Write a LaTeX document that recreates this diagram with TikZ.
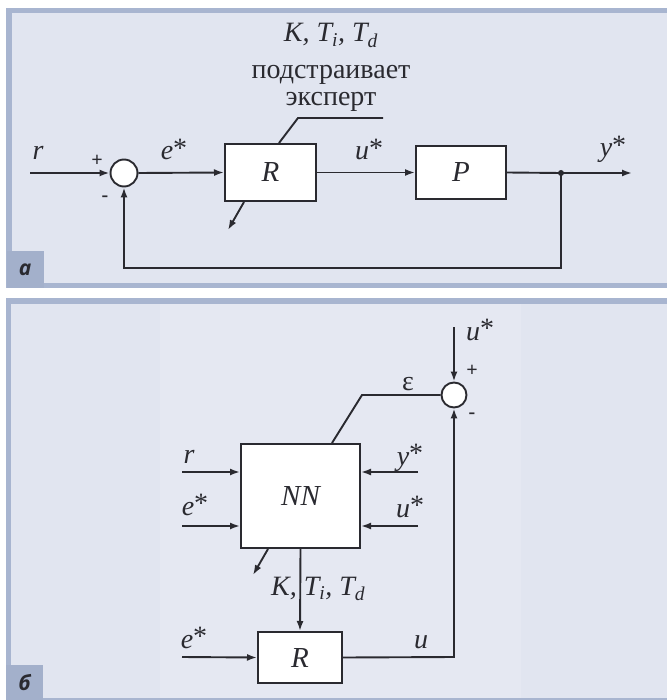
\documentclass[tikz,border=0pt]{standalone}
\usepackage{fontspec}
\setmainfont{Liberation Serif}
\newfontfamily\tagfont{Open Sans}
\usetikzlibrary{arrows.meta}
\definecolor{panelbg}{HTML}{E1E5F0}
\definecolor{innerbg}{HTML}{E5E8F2}
\definecolor{framec}{HTML}{A8B5D0}
\definecolor{tagbg}{HTML}{A3B0CB}
\definecolor{ink}{HTML}{2A2A30}
\tikzset{
  blk/.style={draw=ink, fill=white, line width=2pt, inner sep=0pt,
    font=\fontsize{29}{29}\selectfont\itshape, text=ink},
  sumc/.style={circle, draw=ink, fill=white, line width=1.9pt, inner sep=0pt},
  wire/.style={draw=ink, line width=1.9pt},
  arr/.style={wire, -{Latex[length=10pt,width=7pt]}},
  lbl/.style={font=\fontsize{28}{28}\selectfont\itshape, text=ink, inner sep=0pt},
  rlbl/.style={font=\fontsize{28}{28}\selectfont, text=ink, inner sep=0pt},
  sgn/.style={font=\fontsize{20}{20}\selectfont\bfseries, text=ink, inner sep=0pt},
  tagbox/.style={fill=tagbg, text=ink, font=\tagfont\fontsize{21}{21}\selectfont\bfseries\itshape,
    minimum width=37pt, minimum height=37pt, inner sep=0pt},
  dot/.style={circle, fill=ink, inner sep=0pt, minimum size=6pt}
}
\newcommand{\st}{\raisebox{0.1em}{\upshape *}}
\begin{document}
\begin{tikzpicture}[x=1pt,y=-1pt]
\useasboundingbox (0,0) rectangle (667,700);
% panel frames
\fill[framec] (6,8) rectangle (667,288);
\fill[panelbg] (12,13) rectangle (667,283);
\fill[framec] (6,298) rectangle (667,700);
\fill[panelbg] (11,304) rectangle (667,698);
\fill[innerbg] (160,304) rectangle (521,698);
\node[tagbox] (taga) at (25,269.5) {а};
\node[tagbox] (tagb) at (24.5,683) {б};

% ---------- panel a ----------
\node[blk, minimum width=91pt, minimum height=57pt] (Ra) at (270.5,172.5) {R};
\node[blk, minimum width=90pt, minimum height=53pt] (Pa) at (461,172.5) {P};
\node[sumc, minimum size=27pt] (sa) at (124,173) {};
\coordinate (rin) at (30,173);
\coordinate (yout) at (632,173);
\node[dot] (ja) at (561,173) {};
\coordinate (fb1) at (561,268);
\coordinate (fb2) at (124,268);
\coordinate (adjA) at (228,230);
\coordinate (tunA) at (298,118);
\coordinate (tunB) at (383,118);

\draw[arr] (rin) -- (sa.west);
\draw[arr] (sa.east) -- (Ra.west);
\draw[arr] (Ra.east) -- (Pa.west);
\draw[wire] (Pa.east) -- (ja.center);
\draw[arr] (ja.center) -- (yout);
\draw[arr] (ja.center) -- (fb1) -- (fb2) -- (sa.south);
\draw[arr] (Ra.south west) ++(20,0) coordinate (adjS) -- (adjA);
\draw[wire] (Ra.north) ++(8.5,0) coordinate (tunS) -- (tunA) -- (tunB);

\node[lbl, anchor=base] (lr) at (38,160) {r};
\node[sgn] (pa) at (97,161) {+};
\node[sgn] (ma) at (105,199) {-};
\node[lbl, anchor=base] (le) at (174,160) {e\st};
\node[lbl, anchor=base] (lu) at (369,160) {u\st};
\node[lbl, anchor=base] (ly) at (613,157) {y\st};
\node[lbl, anchor=base] (kti) at (331,42) {K, T\textsubscript{i}, T\textsubscript{d}};
\node[rlbl, anchor=base] (t1) at (331,79) {подстраивает};
\node[rlbl, anchor=base] (t2) at (331,106) {эксперт};

% ---------- panel b ----------
\node[blk, minimum width=119pt, minimum height=104pt] (NN) at (300.5,496) {NN};
\node[blk, minimum width=84pt, minimum height=51pt] (Rb) at (300,657.5) {R};
\node[sumc, minimum size=25pt] (sb) at (454,395) {};
\coordinate (rinb) at (182,472);
\coordinate (einb) at (182,526);
\coordinate (yinb) at (418,472);
\coordinate (uinb) at (418,526);
\coordinate (etop) at (362,395);
\coordinate (utop) at (454,327);
\coordinate (adjB) at (253,575);
\coordinate (ein2) at (182,657);
\coordinate (ucorner) at (454,657);

\draw[arr] (rinb) -- (rinb -| NN.west);
\draw[arr] (einb) -- (einb -| NN.west);
\draw[arr] (yinb) -- (yinb -| NN.east);
\draw[arr] (uinb) -- (uinb -| NN.east);
\draw[wire] (NN.north) ++(31.5,0) coordinate (nnS) -- (etop) -- (sb.west);
\draw[arr] (utop) -- (sb.north);
\draw[arr] (NN.south west) ++(28,0) coordinate (adjS2) -- (adjB);
\draw[arr] (NN.south) -- (Rb.north);
\draw[arr] (ein2) -- (Rb.west);
\draw[arr] (Rb.east) -- (ucorner) -- (sb.south);

\node[lbl, anchor=base] (lrb) at (189,463) {r};
\node[lbl, anchor=base] (leb) at (195,515) {e\st};
\node[lbl, anchor=base] (lyb) at (410,465) {y\st};
\node[lbl, anchor=base] (lub) at (410,517) {u\st};
\node[lbl, anchor=base west] (ktib) at (271,595) {K, T\textsubscript{i}, T\textsubscript{d}};
\node[rlbl, anchor=base] (eps) at (408,390) {ε};
\node[lbl, anchor=base] (lut) at (480,340) {u\st};
\node[sgn] (pb) at (472,371) {+};
\node[sgn] (mb) at (472,416) {-};
\node[lbl, anchor=base] (le2) at (194,648) {e\st};
\node[lbl, anchor=base] (lu2) at (421,648) {u};
\end{tikzpicture}
\end{document}
